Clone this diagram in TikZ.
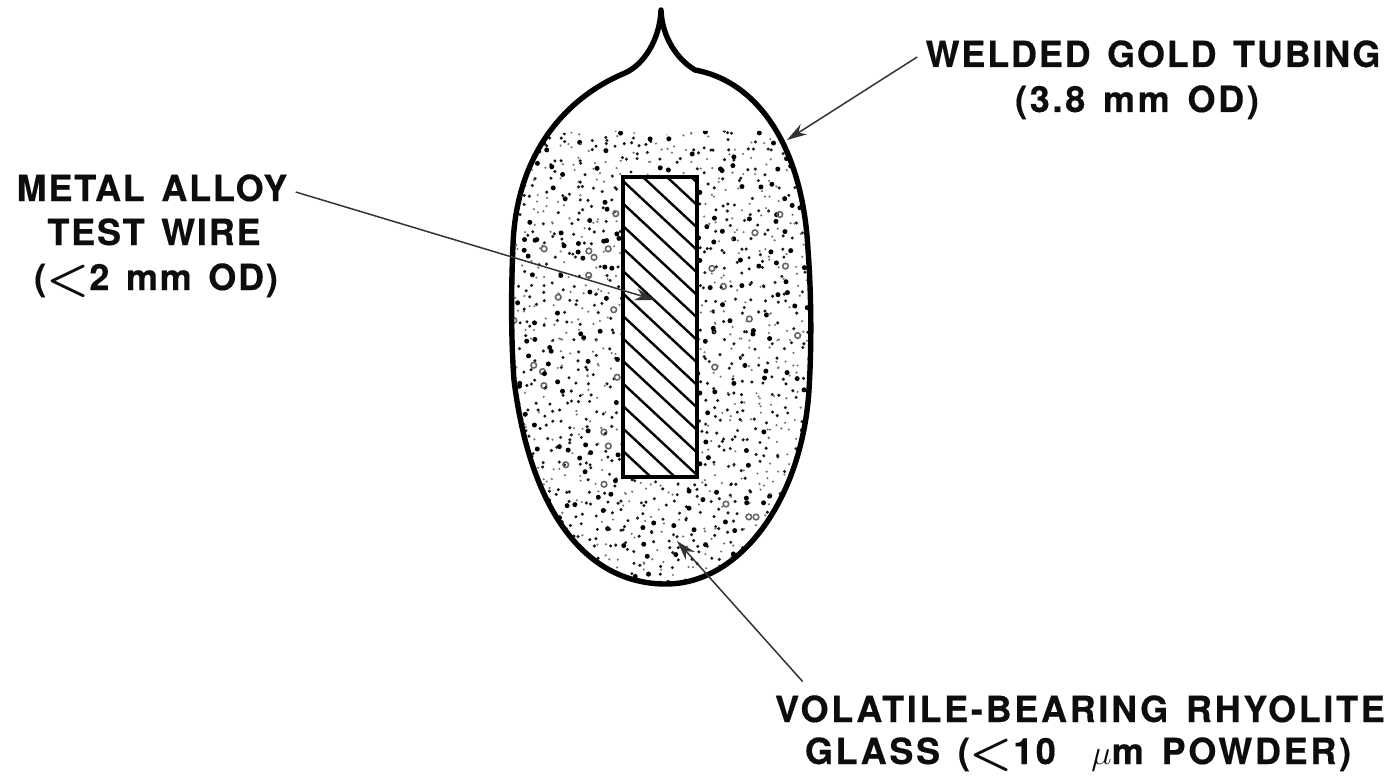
\documentclass[tikz,border=0pt]{standalone}
\usepackage{fontspec}
\setmainfont{TeX Gyre Heros}
\newfontfamily\labelfont[LetterSpace=5,WordSpace=1.4,FakeBold=0.4]{TeX Gyre Heros Bold}
\newfontfamily\glassfont[LetterSpace=7.5,WordSpace=1.4,FakeBold=0.4]{TeX Gyre Heros Bold}
\newcommand{\lessmark}{\raisebox{-1.6pt}{\scalebox{1.4}{\boldmath$<$}}}
\usetikzlibrary{arrows.meta}
\tikzset{
  caption/.style={font=\labelfont\fontsize{18}{18}\selectfont, text=labelink, inner sep=0pt, anchor=center, text height=13pt, text depth=0pt},
  glasscaption/.style={caption, font=\glassfont\fontsize{18}{18}\selectfont},
  pointer/.style={draw=pointerink, line width=0.75pt, -{Stealth[length=10pt,width=6pt]}},
  wall/.style={line width=2.7pt, line join=round, line cap=round},
}
\begin{document}
\begin{tikzpicture}[x=0.5pt,y=-0.5pt]

% Define colors
\definecolor{labelink}{rgb}{0.05, 0.05, 0.05}
\definecolor{pointerink}{rgb}{0.2, 0.2, 0.2}
\definecolor{ringink}{rgb}{0.4, 0.4, 0.4}

\useasboundingbox (0,0) rectangle (1394,776);

% Outline of the capsule
\def\capsulepath{(661,10) .. controls (662,38) and (678,60) .. (695,70) .. controls (760,82) and (803,150) .. (808,250) .. controls (811,290) and (812,340) .. (809,390) .. controls (802,500) and (740,584) .. (666,584) .. controls (585,584) and (530,510) .. (514,380) .. controls (511,340) and (511,290) .. (513,245) .. controls (516,160) and (560,100) .. (625,73) .. controls (645,64) and (660,38) .. (661,10)}

% Draw the powder
\begin{scope}
\clip \capsulepath;
\clip plot[smooth] coordinates {(500,136) (560,133) (620,131) (655,136) (670,134) (700,131) (760,131) (820,136)} -- (820,600) -- (500,600) -- cycle;
\pgfmathsetseed{4217}
\foreach \gx in {0,...,34} {
  \foreach \gy in {0,...,52} {
    \pgfmathsetmacro{\dotx}{512+\gx*9+6*rand}
    \pgfmathsetmacro{\doty}{128+\gy*9+6*rand}
    \pgfmathsetmacro{\kind}{rnd}
    \ifdim\kind pt<0.38pt
      \fill[black!55] (\dotx,\doty) circle (0.6pt);
    \else\ifdim\kind pt<0.84pt
      \fill[black!90] (\dotx,\doty) circle (0.85pt);
    \else\ifdim\kind pt<0.975pt
      \fill[black] (\dotx,\doty) circle (1.25pt);
    \else
      \draw[ringink,line width=0.8pt] (\dotx,\doty) circle (1.4pt);
    \fi\fi\fi
  }
}
\end{scope}

% Draw the wire
\fill[white] (623,177) rectangle (697,477);
\begin{scope}
\clip (623,177) rectangle (697,477);
\foreach \k in {-2,...,13} {
  \draw[line width=1.2pt] (623,475-22.5*\k-69) -- (697,475-22.5*\k);
}
\end{scope}
\draw[line width=1.7pt] (623,177) rectangle (697,477);

\draw[wall] \capsulepath;

% Labels
\node[caption] (welda) at (1153,54) {WELDED GOLD TUBING};
\node[glasscaption] (weldb) at (1137,99) {(3.8 mm OD)};
\node[caption] (metala) at (152,188) {METAL ALLOY};
\node[caption] (metalb) at (154,232) {TEST WIRE};
\node[caption] (metalc) at (156,277) {(\lessmark 2 mm OD)};
\node[glasscaption] (glassa) at (1080,709) {VOLATILE-BEARING RHYOLITE};
\node[glasscaption] (glassb) at (1078,751) {GLASS (\lessmark 10\ \ $\mu$m POWDER)};

% Arrow ends
\coordinate (weldtip) at (787,140);
\coordinate (wiretip) at (655,300);
\coordinate (glasstip) at (677,541);

\draw[pointer] ([xshift=-4pt,yshift=-1.5pt]welda.west) -- (weldtip);
\draw[pointer] ([xshift=4pt,yshift=-2pt]metala.east) -- (wiretip);
\draw[pointer] ([xshift=14pt,yshift=7pt]glassa.north west) -- (glasstip);

\end{tikzpicture}
\end{document}
